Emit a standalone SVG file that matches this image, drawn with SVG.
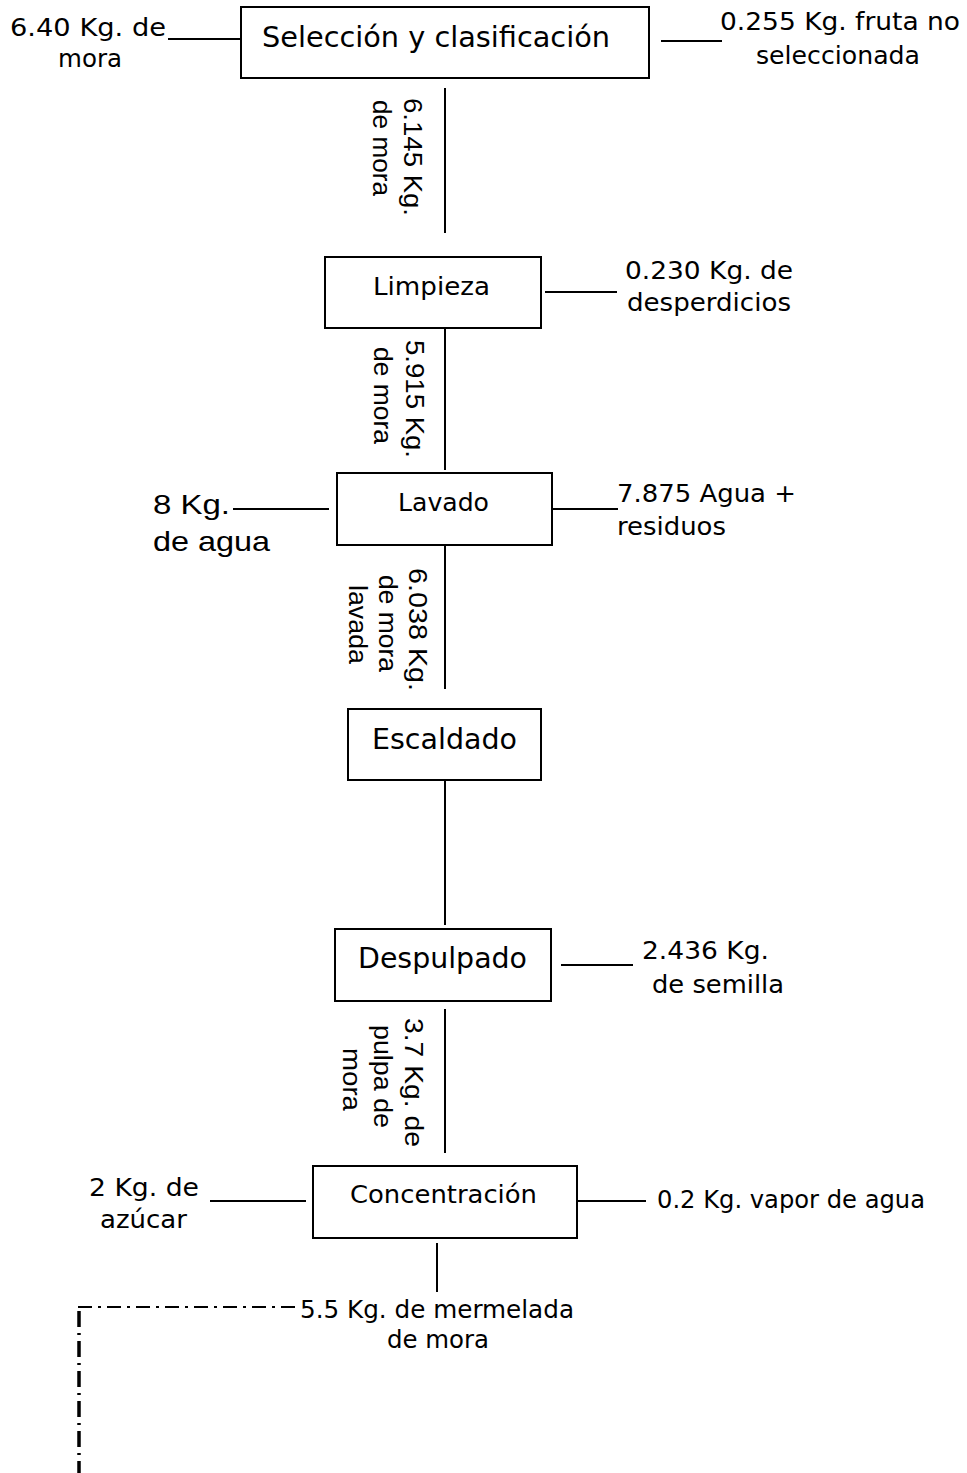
<svg xmlns="http://www.w3.org/2000/svg" width="967" height="1473" viewBox="0 0 967 1473">
  <style>
    .box { fill: #ffffff; stroke: #000000; stroke-width: 2; }
    .ln { stroke: #000000; stroke-width: 2; fill: none; }
    .dd { stroke: #000000; fill: none; }
    text { fill: #000000; }
    .v { font-family: "DejaVu Sans", Verdana, sans-serif; }
    .a { font-family: "Liberation Sans", Arial, sans-serif; }
  </style>
  <rect width="967" height="1473" fill="#ffffff"/>

  <!-- flow connectors -->
  <g id="connectors">
    <line class="ln" x1="168" y1="39" x2="241" y2="39"/>
    <line class="ln" x1="661" y1="41" x2="722" y2="41"/>
    <line class="ln" x1="445" y1="88" x2="445" y2="233"/>
    <line class="ln" x1="545" y1="292" x2="617" y2="292"/>
    <line class="ln" x1="445" y1="328" x2="445" y2="470"/>
    <line class="ln" x1="233" y1="509" x2="329" y2="509"/>
    <line class="ln" x1="549" y1="509" x2="618" y2="509"/>
    <line class="ln" x1="445" y1="545" x2="445" y2="689"/>
    <line class="ln" x1="445" y1="781" x2="445" y2="925"/>
    <line class="ln" x1="561" y1="965" x2="633" y2="965"/>
    <line class="ln" x1="445" y1="1009" x2="445" y2="1153"/>
    <line class="ln" x1="210" y1="1201" x2="306" y2="1201"/>
    <line class="ln" x1="573" y1="1201" x2="646" y2="1201"/>
    <line class="ln" x1="437" y1="1243" x2="437" y2="1292"/>
    <!-- dash-dot return line -->
    <line class="dd" x1="295" y1="1307" x2="77" y2="1307" stroke-width="2" stroke-dasharray="14 6 3 6"/>
    <line class="dd" x1="79" y1="1311" x2="79" y2="1473" stroke-width="3.5" stroke-dasharray="16 6 2 6"/>
  </g>

  <g id="seleccion">
    <rect class="box" x="241" y="7" width="408" height="71"/>
    <text class="v" x="262" y="47" font-size="29" textLength="348" lengthAdjust="spacingAndGlyphs">Selección y clasificación</text>
  </g>
  <g id="entrada-mora">
    <text class="v" x="10" y="36" font-size="24" textLength="156" lengthAdjust="spacingAndGlyphs">6.40 Kg. de</text>
    <text class="v" x="58" y="67" font-size="24" textLength="64" lengthAdjust="spacingAndGlyphs">mora</text>
  </g>
  <g id="salida-fruta">
    <text class="v" x="720" y="30" font-size="24" textLength="240" lengthAdjust="spacingAndGlyphs">0.255 Kg. fruta no</text>
    <text class="v" x="756" y="64" font-size="24" textLength="164" lengthAdjust="spacingAndGlyphs">seleccionada</text>
  </g>
  <g id="flujo-1">
    <text class="a" transform="translate(404,98) rotate(90)" font-size="25" textLength="118" lengthAdjust="spacingAndGlyphs">6.145 Kg.</text>
    <text class="a" transform="translate(373,100) rotate(90)" font-size="25" textLength="96" lengthAdjust="spacingAndGlyphs">de mora</text>
  </g>

  <g id="limpieza">
    <rect class="box" x="325" y="257" width="216" height="71"/>
    <text class="v" x="373" y="295" font-size="25" textLength="117" lengthAdjust="spacingAndGlyphs">Limpieza</text>
  </g>
  <g id="salida-desperdicios">
    <text class="v" x="625" y="279" font-size="24" textLength="168" lengthAdjust="spacingAndGlyphs">0.230 Kg. de</text>
    <text class="v" x="627" y="311" font-size="24" textLength="164" lengthAdjust="spacingAndGlyphs">desperdicios</text>
  </g>
  <g id="flujo-2">
    <text class="a" transform="translate(406,340) rotate(90)" font-size="25" textLength="118" lengthAdjust="spacingAndGlyphs">5.915 Kg.</text>
    <text class="a" transform="translate(374,347) rotate(90)" font-size="25" textLength="97" lengthAdjust="spacingAndGlyphs">de mora</text>
  </g>

  <g id="lavado">
    <rect class="box" x="337" y="473" width="215" height="72"/>
    <text class="v" x="398" y="511" font-size="24" textLength="91" lengthAdjust="spacingAndGlyphs">Lavado</text>
  </g>
  <g id="entrada-agua">
    <text class="a" x="153" y="514" font-size="28" textLength="77" lengthAdjust="spacingAndGlyphs">8 Kg.</text>
    <text class="a" x="153" y="551" font-size="28" textLength="117" lengthAdjust="spacingAndGlyphs">de agua</text>
  </g>
  <g id="salida-agua">
    <text class="v" x="617" y="502" font-size="24" textLength="179" lengthAdjust="spacingAndGlyphs">7.875 Agua +</text>
    <text class="v" x="617" y="535" font-size="24" textLength="109" lengthAdjust="spacingAndGlyphs">residuos</text>
  </g>
  <g id="flujo-3">
    <text class="a" transform="translate(409,568) rotate(90)" font-size="25" textLength="123" lengthAdjust="spacingAndGlyphs">6.038 Kg.</text>
    <text class="a" transform="translate(379,575) rotate(90)" font-size="25" textLength="97" lengthAdjust="spacingAndGlyphs">de mora</text>
    <text class="a" transform="translate(349,585) rotate(90)" font-size="25" textLength="79" lengthAdjust="spacingAndGlyphs">lavada</text>
  </g>

  <g id="escaldado">
    <rect class="box" x="348" y="709" width="193" height="71"/>
    <text class="v" x="372" y="749" font-size="28" textLength="145" lengthAdjust="spacingAndGlyphs">Escaldado</text>
  </g>

  <g id="despulpado">
    <rect class="box" x="335" y="929" width="216" height="72"/>
    <text class="v" x="358" y="968" font-size="28" textLength="169" lengthAdjust="spacingAndGlyphs">Despulpado</text>
  </g>
  <g id="salida-semilla">
    <text class="v" x="642" y="959" font-size="25" textLength="127" lengthAdjust="spacingAndGlyphs">2.436 Kg.</text>
    <text class="v" x="652" y="993" font-size="25" textLength="132" lengthAdjust="spacingAndGlyphs">de semilla</text>
  </g>
  <g id="flujo-4">
    <text class="a" transform="translate(405,1018) rotate(90)" font-size="25" textLength="129" lengthAdjust="spacingAndGlyphs">3.7 Kg. de</text>
    <text class="a" transform="translate(374,1025) rotate(90)" font-size="25" textLength="103" lengthAdjust="spacingAndGlyphs">pulpa de</text>
    <text class="a" transform="translate(343,1048) rotate(90)" font-size="25" textLength="63" lengthAdjust="spacingAndGlyphs">mora</text>
  </g>

  <g id="concentracion">
    <rect class="box" x="313" y="1166" width="264" height="72"/>
    <text class="v" x="350" y="1203" font-size="24" textLength="187" lengthAdjust="spacingAndGlyphs">Concentración</text>
  </g>
  <g id="entrada-azucar">
    <text class="v" x="89" y="1196" font-size="24" textLength="110" lengthAdjust="spacingAndGlyphs">2 Kg. de</text>
    <text class="v" x="100" y="1228" font-size="24" textLength="87" lengthAdjust="spacingAndGlyphs">azúcar</text>
  </g>
  <g id="salida-vapor">
    <text class="v" x="657" y="1208" font-size="24" textLength="268" lengthAdjust="spacingAndGlyphs">0.2 Kg. vapor de agua</text>
  </g>
  <g id="producto">
    <text class="v" x="300" y="1318" font-size="24" textLength="274" lengthAdjust="spacingAndGlyphs">5.5 Kg. de mermelada</text>
    <text class="v" x="387" y="1348" font-size="24" textLength="102" lengthAdjust="spacingAndGlyphs">de mora</text>
  </g>
</svg>
